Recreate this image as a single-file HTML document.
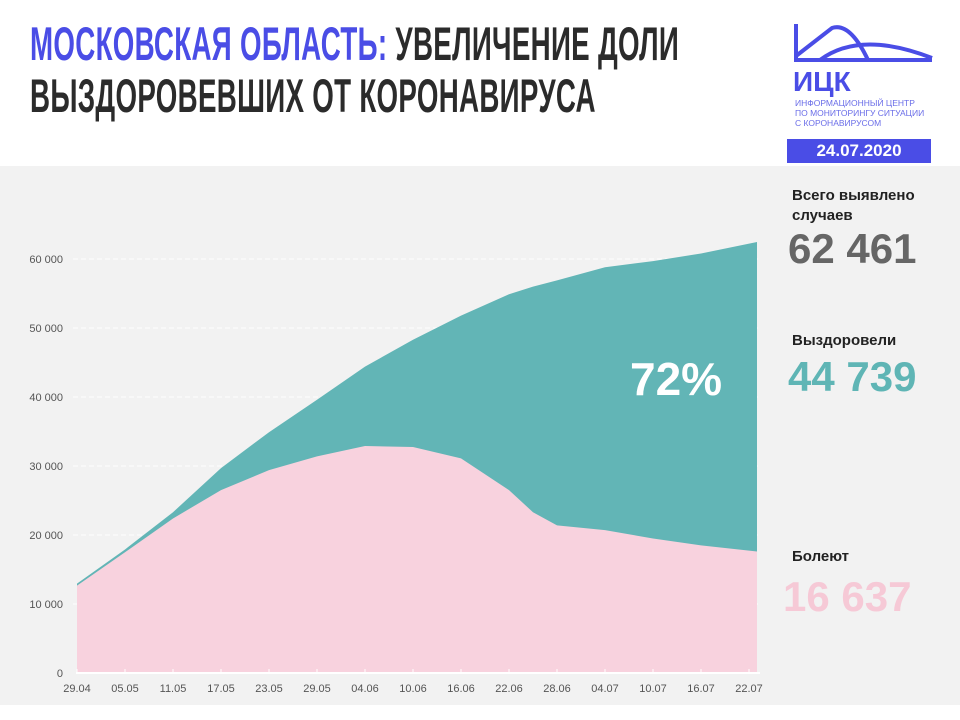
<!DOCTYPE html>
<html><head><meta charset="utf-8">
<style>
body{margin:0;width:960px;height:720px;background:#fff;position:relative;overflow:hidden;font-family:"Liberation Sans",sans-serif}
.t{position:absolute;white-space:nowrap}
</style></head><body>
<div class="t" style="left:30px;top:18px;font-family:'Liberation Sans',sans-serif;font-weight:bold;font-size:47px;line-height:52px;color:#2b2b2b;transform:scaleX(0.59);transform-origin:left top;letter-spacing:0.5px">
<span style="color:#4a4de6">МОСКОВСКАЯ ОБЛАСТЬ:</span> УВЕЛИЧЕНИЕ ДОЛИ<br>ВЫЗДОРОВЕВШИХ ОТ КОРОНАВИРУСА</div>

<svg style="position:absolute;left:790px;top:20px" width="150" height="50">
<path d="M6 4 L6 40 L142 40 M6 36 L42 8 Q60 2 78 40 M30 40 Q70 10 142 38" fill="none" stroke="#4a4de6" stroke-width="4"/>
</svg>
<div class="t" style="left:793px;top:66px;font-weight:bold;font-size:28px;color:#4a4de6">ИЦК</div>
<div class="t" style="left:795px;top:98px;font-size:8.5px;line-height:10px;color:#6a6de8">ИНФОРМАЦИОННЫЙ ЦЕНТР<br>ПО МОНИТОРИНГУ СИТУАЦИИ<br>С КОРОНАВИРУСОМ</div>
<div class="t" style="left:787px;top:139px;width:144px;height:24px;background:#4a4de6;color:#fff;font-weight:bold;font-size:17px;text-align:center;line-height:24px">24.07.2020</div>

<div style="position:absolute;left:0;top:166px;width:960px;height:539px;background:#f2f2f2"></div>

<svg id="chart" style="position:absolute;left:0;top:0" width="960" height="720"></svg>

<div class="t" style="left:792px;top:186px;font-weight:bold;font-size:15px;line-height:20px;color:#222">Всего выявлено<br>случаев</div>
<div class="t" style="left:788px;top:225px;font-weight:bold;font-size:42px;color:#666">62 461</div>
<div class="t" style="left:792px;top:332px;font-weight:bold;font-size:15px;color:#222">Выздоровели</div>
<div class="t" style="left:788px;top:353px;font-weight:bold;font-size:42px;color:#5fb5b5">44 739</div>
<div class="t" style="left:792px;top:548px;font-weight:bold;font-size:15px;color:#222">Болеют</div>
<div class="t" style="left:783px;top:573px;font-weight:bold;font-size:42px;color:#f6c9d6">16 637</div>
<div class="t" style="left:630px;top:352px;font-weight:bold;font-size:46px;color:#fff">72%</div>

<script>
const days=[0,6,12,18,24,30,36,42,48,54,57,60,66,72,78,85];
const totalCases=[12950,17900,23300,29700,34900,39600,44400,48300,51800,54900,56000,56900,58800,59700,60800,62461];
const activeCases=[12660,17500,22400,26500,29400,31400,32900,32750,31100,26500,23300,21400,20700,19500,18500,17600];
const yTicks=[0,10000,20000,30000,40000,50000,60000];
const xLabels=["29.04","05.05","11.05","17.05","23.05","29.05","04.06","10.06","16.06","22.06","28.06","04.07","10.07","16.07","22.07"];

const svg=document.getElementById('chart');
const NS='http://www.w3.org/2000/svg';
const X=d=>77+8*d;
const Y=v=>673-v*0.0069;
function mk(tag,attrs){const e=document.createElementNS(NS,tag);for(const k in attrs)e.setAttribute(k,attrs[k]);svg.appendChild(e);return e;}

yTicks.forEach(v=>{
  if(v>0){const g=mk('line',{x1:73,x2:760,y1:Y(v),y2:Y(v),stroke:'#fff','stroke-width':1,'stroke-dasharray':'5,3'});
  
  }
  const t=mk('text',{x:63,y:Y(v)+4,'text-anchor':'end','font-size':11,fill:'#555','font-family':'Liberation Sans, sans-serif'});
  t.textContent=v===0?'0':(v/1000)+' 000';
  
  
});

let pt='M'+X(days[0])+','+Y(0);
days.forEach((d,i)=>pt+=' L'+X(d)+','+Y(totalCases[i]));
pt+=' L'+X(days[days.length-1])+','+Y(0)+' Z';
const a1=mk('path',{d:pt,fill:'#62b5b6'});



let pa='M'+X(days[0])+','+Y(0);
days.forEach((d,i)=>pa+=' L'+X(d)+','+Y(activeCases[i]));
pa+=' L'+X(days[days.length-1])+','+Y(0)+' Z';
const a2=mk('path',{d:pa,fill:'#f8d2de'});



const ax=mk('line',{x1:76,x2:760,y1:673,y2:673,stroke:'#fff','stroke-width':2});


xLabels.forEach((l,i)=>{
  const x=X(i*6);
  const tk=mk('line',{x1:x,x2:x,y1:669,y2:673,stroke:'#fff','stroke-width':1});
  
  
  const t=mk('text',{x:x,y:692,'text-anchor':'middle','font-size':11,fill:'#555','font-family':'Liberation Sans, sans-serif'});
  t.textContent=l;
  
  
});
</script>
</body></html>
